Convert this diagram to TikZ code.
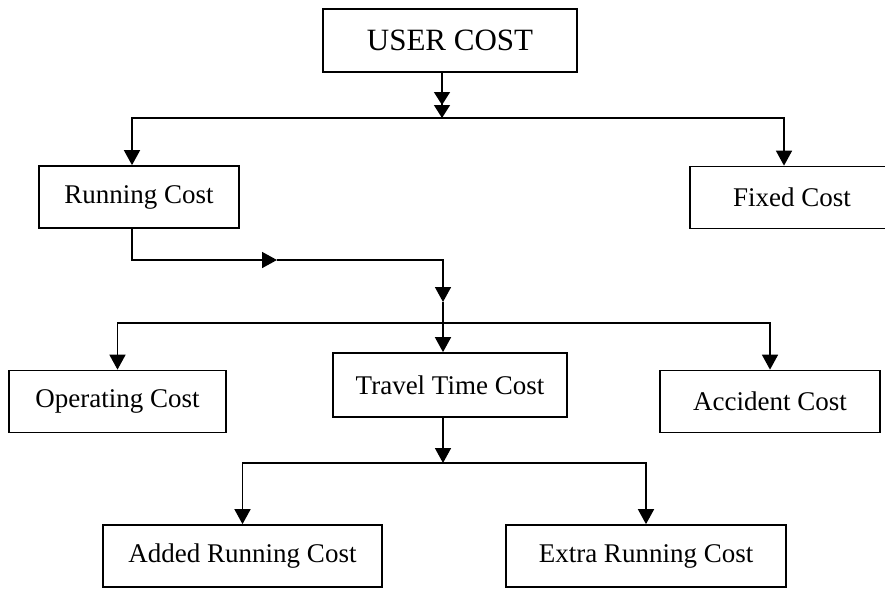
\documentclass[tikz,border=0pt]{standalone}
\usepackage{fontspec}
\setmainfont{Liberation Serif}
\usetikzlibrary{positioning, arrows.meta}
\tikzset{
    costbox/.style={
        rectangle,
        draw=black,
        line width=1.7pt, % 边框加粗
        minimum height=62pt,
        inner sep=0,
        font=\fontsize{27}{30}\selectfont
    },
    topbox/.style={
        costbox,
        minimum height=63pt,
        font=\fontsize{31}{34}\selectfont % 顶层字号稍大
    },
    link/.style={
        line width=1.6pt
    }
}

\begin{document}
\begin{tikzpicture}[
                x=1pt, y=-1pt,
                >={Triangle[width=16pt,length=15pt]}
            ]
            \useasboundingbox (0,0) rectangle (885,589);
            \clip (0,0) rectangle (885,589);
            % 方框
            \node[topbox, minimum width=254pt] (user) at (450,40.5) {USER COST};
            \node[costbox, minimum width=200pt] (running) at (139,197) {Running Cost};
            \node[costbox, minimum width=204pt] (fixed) at (792,197.5) {Fixed Cost};
            \node[costbox, minimum width=217pt] (operating) at (117.5,401.5) {Operating Cost};
            \node[costbox, minimum width=234pt, minimum height=64pt] (travel) at (450,385) {Travel Time Cost};
            \node[costbox, minimum width=220pt] (accident) at (770,401.5) {Accident Cost};
            \node[costbox, minimum width=279pt] (added) at (242.5,556) {Added Running Cost};
            \node[costbox, minimum width=280pt] (extra) at (646,556) {Extra Running Cost};
            % 连线
            \coordinate (bus1) at (442,118);
            \coordinate (turn) at (277,260);
            \coordinate (mid) at (443,302);
            \coordinate (bus2) at (443,323);
            \coordinate (bus3) at (443,463);
            \draw[link, -{Triangle[width=16pt,length=13pt] Triangle[width=16pt,length=13pt]}] (user.south -| bus1) -- (bus1);
            \draw[link, ->] (bus1) -| ([xshift=-7pt]running.north);
            \draw[link, ->] (bus1) -| ([xshift=-8pt]fixed.north);
            \draw[link, ->] ([xshift=-7pt]running.south) |- (turn);
            \draw[link, ->] (turn) -| (mid);
            \draw[link] (mid) -- (bus2);
            \draw[link, ->] (bus2) -| (operating.north);
            \draw[link, ->] (bus2) -- (travel.north -| bus2);
            \draw[link, ->] (bus2) -| (accident.north);
            \draw[link, ->] (travel.south -| bus3) -- (bus3);
            \draw[link, ->] (bus3) -| (added.north);
            \draw[link, ->] (bus3) -| (extra.north);
            \end{tikzpicture}
\end{document}
